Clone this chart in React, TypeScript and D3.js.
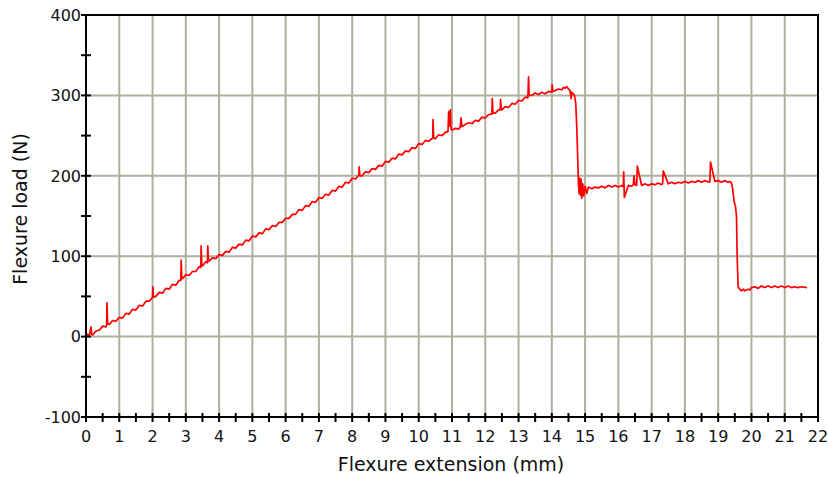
import React from "react";
import * as d3 from "d3";

const W = 828;
const H = 477;

// Flexure extension (mm)
const extension: number[] = [
  0.00, 0.05, 0.10, 0.15, 0.17, 0.20, 0.30, 0.40, 0.50, 0.60, 0.62, 0.63, 0.65, 0.70,
  0.80, 0.90, 1.00, 1.10, 1.20, 1.30, 1.40, 1.50, 1.60, 1.70, 1.80, 1.90, 2.00, 2.01,
  2.03, 2.10, 2.20, 2.30, 2.40, 2.50, 2.60, 2.70, 2.80, 2.85, 2.86, 2.88, 2.90, 3.00,
  3.10, 3.20, 3.30, 3.40, 3.45, 3.46, 3.48, 3.50, 3.60, 3.65, 3.66, 3.68, 3.70, 3.80,
  3.90, 4.00, 4.10, 4.20, 4.30, 4.40, 4.50, 4.60, 4.70, 4.80, 4.90, 5.00, 5.10, 5.20,
  5.30, 5.40, 5.50, 5.60, 5.70, 5.80, 5.90, 6.00, 6.10, 6.20, 6.30, 6.40, 6.50, 6.60,
  6.70, 6.80, 6.90, 7.00, 7.10, 7.20, 7.30, 7.40, 7.50, 7.60, 7.70, 7.80, 7.90, 8.00,
  8.10, 8.20, 8.21, 8.23, 8.30, 8.40, 8.50, 8.60, 8.70, 8.80, 8.90, 9.00, 9.10, 9.20,
  9.30, 9.40, 9.50, 9.60, 9.70, 9.80, 9.90, 10.00, 10.10, 10.20, 10.30, 10.42, 10.43,
  10.45, 10.50, 10.60, 10.70, 10.80, 10.88, 10.90, 10.92, 10.95, 10.97, 11.00, 11.10,
  11.20, 11.25, 11.27, 11.30, 11.40, 11.50, 11.60, 11.70, 11.80, 11.90, 12.00, 12.10,
  12.20, 12.21, 12.23, 12.30, 12.40, 12.45, 12.46, 12.48, 12.50, 12.60, 12.70, 12.80,
  12.90, 13.00, 13.10, 13.20, 13.28, 13.30, 13.32, 13.40, 13.50, 13.60, 13.70, 13.80,
  13.90, 14.00, 14.01, 14.03, 14.10, 14.20, 14.30, 14.35, 14.40, 14.45, 14.50, 14.55,
  14.58, 14.60, 14.68, 14.72, 14.75, 14.78, 14.80, 14.82, 14.84, 14.86, 14.88, 14.90,
  14.93, 14.96, 15.00, 15.05, 15.10, 15.20, 15.30, 15.40, 15.50, 15.60, 15.70, 15.80,
  15.90, 16.00, 16.10, 16.13, 16.15, 16.16, 16.18, 16.30, 16.40, 16.45, 16.47, 16.50,
  16.55, 16.57, 16.70, 16.80, 16.90, 17.00, 17.10, 17.20, 17.30, 17.33, 17.35, 17.50,
  17.60, 17.70, 17.80, 17.90, 18.00, 18.10, 18.20, 18.30, 18.40, 18.50, 18.60, 18.73,
  18.75, 18.77, 18.90, 19.00, 19.10, 19.20, 19.30, 19.35, 19.40, 19.43, 19.48, 19.52,
  19.55, 19.57, 19.60, 19.65, 19.70, 19.75, 19.80, 19.90, 19.95, 20.00, 20.10, 20.20,
  20.30, 20.40, 20.50, 20.60, 20.70, 20.80, 20.90, 21.00, 21.10, 21.20, 21.30, 21.40,
  21.50, 21.67,
];

// Flexure load (N)
const load: number[] = [
  0, 3, 1, 12, 3, 2, 7, 8, 13, 12, 15, 42, 16, 15,
  20, 19, 24, 23, 29, 28, 34, 33, 39, 38, 44, 44, 49, 62,
  49, 50, 55, 54, 60, 59, 65, 64, 70, 70, 95, 73, 72, 77,
  76, 81, 81, 87, 86, 113, 89, 88, 93, 92, 113, 95, 94, 98,
  97, 102, 101, 106, 105, 111, 110, 115, 114, 120, 119, 125, 124, 129,
  128, 134, 133, 138, 137, 142, 142, 147, 147, 152, 152, 158, 157, 163,
  162, 168, 167, 173, 172, 177, 176, 182, 181, 187, 186, 192, 191, 197,
  196, 201, 211, 200, 200, 205, 204, 209, 208, 213, 212, 218, 217, 222,
  221, 227, 226, 231, 230, 235, 234, 240, 239, 244, 243, 247, 270,
  247, 246, 251, 250, 254, 255, 280, 262, 282, 258, 257, 259,
  258, 261, 272, 261, 264, 266, 265, 269, 268, 273, 272, 276,
  277, 296, 278, 278, 282, 282, 295, 283, 282, 286, 285, 290,
  289, 294, 293, 298, 297, 323, 300, 300, 303, 301, 304, 302,
  305, 304, 313, 305, 306, 308, 307, 310, 309, 311, 308, 306,
  296, 304, 300, 290, 260, 220, 190, 178, 197, 176, 196, 172,
  190, 175, 187, 178, 186, 184, 186, 185, 187, 185, 188, 186,
  188, 186, 188, 187, 188, 205, 173, 188, 187, 189, 200, 189,
  188, 212, 188, 190, 188, 190, 189, 191, 189, 190, 206, 190, 192,
  190, 192, 191, 193, 191, 193, 192, 194, 192, 194, 192, 193,
  217, 193, 194, 192, 194, 192, 193, 191, 185, 168, 162, 150,
  100, 62, 59, 57, 59, 57, 59, 58, 61, 62, 60, 63,
  61, 63, 61, 63, 61, 63, 61, 63, 61, 62, 61, 62,
  61, 62,
];

const xTicks: number[] = d3.range(0, 23, 1);
const xMinorTicks: number[] = d3.range(0.5, 22, 1);
const yTicks: number[] = [-100, 0, 100, 200, 300, 400];
const yMinorTicks: number[] = [-50, 50, 150, 250, 350];
const yGrid: number[] = [0, 100, 200, 300];

const xTitle = "Flexure extension (mm)";
const yTitle = "Flexure load (N)";

export default function App() {
  const left = 86, right = 818, top = 15, bottom = 417;
  const x = d3.scaleLinear().domain([0, 22]).range([left, right]);
  const y = d3.scaleLinear().domain([-100, 400]).range([bottom, top]);
  const pts: [number, number][] = extension.map((e, i) => [e, load[i]]);
  const line = d3
    .line<[number, number]>()
    .x((d) => x(d[0]))
    .y((d) => y(d[1]));
  const gridColor = "#b1ae9f";
  const font = "'DejaVu Sans', Verdana, sans-serif";
  return (
    <svg
      width={W}
      height={H}
      style={{ position: "absolute", left: 0, top: 0, background: "#fff" }}
      fontFamily={font}
    >
      {/* grid */}
      {xTicks.slice(1, -1).map((t) => (
        <line key={"gx" + t} x1={x(t)} x2={x(t)} y1={top} y2={bottom} stroke={gridColor} strokeWidth={2} />
      ))}
      {yGrid.map((t) => (
        <line key={"gy" + t} x1={left} x2={right} y1={y(t)} y2={y(t)} stroke={gridColor} strokeWidth={2} />
      ))}
      {/* data */}
      <path d={line(pts) || ""} fill="none" stroke="#ff0000" strokeWidth={1.7} strokeLinejoin="round" />
      {/* frame */}
      <rect x={left} y={top} width={right - left} height={bottom - top} fill="none" stroke="#000" strokeWidth={2} />
      {/* x ticks */}
      {xTicks.map((t) => (
        <line key={"xt" + t} x1={x(t)} x2={x(t)} y1={bottom - 4} y2={bottom + 5} stroke="#000" strokeWidth={2} />
      ))}
      {xMinorTicks.map((t) => (
        <line key={"xm" + t} x1={x(t)} x2={x(t)} y1={bottom - 4} y2={bottom + 5} stroke="#000" strokeWidth={2} />
      ))}
      {xTicks.map((t) => (
        <text key={"xl" + t} x={x(t)} y={442} textAnchor="middle" fontSize={16} fill="#111">
          {t}
        </text>
      ))}
      {/* y ticks */}
      {yTicks.map((t) => (
        <line key={"yt" + t} x1={left - 5} x2={left + 5} y1={y(t)} y2={y(t)} stroke="#000" strokeWidth={2} />
      ))}
      {yMinorTicks.map((t) => (
        <line key={"ym" + t} x1={left - 5} x2={left + 5} y1={y(t)} y2={y(t)} stroke="#000" strokeWidth={2} />
      ))}
      {yTicks.map((t) => (
        <text key={"yl" + t} x={81} y={y(t)} dy="0.36em" textAnchor="end" fontSize={16} fill="#111">
          {t}
        </text>
      ))}
      {/* titles */}
      <text x={451} y={471} textAnchor="middle" fontSize={19} fill="#111">
        {xTitle}
      </text>
      <text
        transform={`translate(27, 209) rotate(-90)`}
        textAnchor="middle"
        fontSize={19}
        fill="#111"
      >
        {yTitle}
      </text>
    </svg>
  );
}
